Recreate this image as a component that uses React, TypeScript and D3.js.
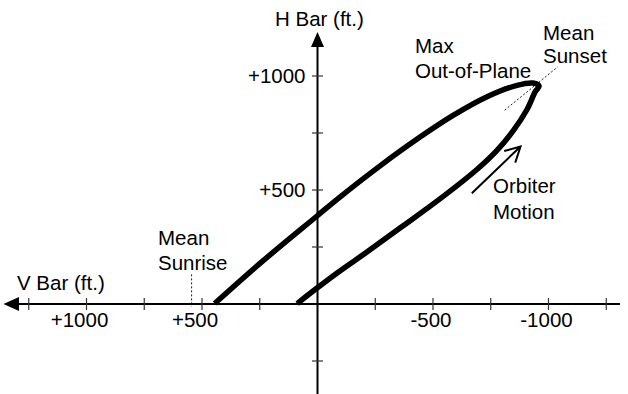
import React, { useRef, useEffect } from 'react';
import * as d3 from 'd3';

// Trajectory relative to target, in feet (V Bar positive to the left)
const vBarFt = [88, 2, -97, -214, -357, -530, -690, -777, -846, -907, -942, -959, -933, -864, -734, -587, -444, -271, -97, 2, 249, 445];
const hBarFt = [2, 70, 145, 228, 333, 461, 590, 674, 758, 853, 930, 956, 969, 959, 909, 827, 732, 606, 469, 386, 178, 2];

const xTicks = [1250, 1000, 750, 500, 250, -250, -500, -750, -1000, -1250];
const xTickLabels = ['+1000', '+500', '-500', '-1000'];
const xLabelValues = [1000, 500, -500, -1000];
const yTicks = [1000, 750, 500, 250, -250];
const yTickLabels = ['+1000', '+500'];
const yLabelValues = [1000, 500];

// annotation anchors, in feet
const sunsetLine = [[-810, 850], [-1040, 1040]];
const sunriseLine = [[545, 130], [545, -12]];
const motionArrow = [[-668, 486], [-879, 691]];

const W = 628;
const H = 394;
const FONT = '"Liberation Sans", Arial, Helvetica, sans-serif';
const FS = 20.5;

const App: React.FC = () => {
  const svgRef = useRef<SVGSVGElement>(null);

  useEffect(() => {
    if (!svgRef.current) return;
    const svg = d3.select(svgRef.current);
    svg.selectAll('*').remove();

    const x = d3.scaleLinear().domain([1000, -1000]).range([86.5, 548.5]);
    const y = d3.scaleLinear().domain([-250, 1000]).range([361, 76]);
    const x0 = x(0);
    const y0 = y(0);

    // horizontal axis (V Bar) with arrow to the left
    svg.append('line')
      .attr('x1', 14).attr('x2', 620)
      .attr('y1', y0).attr('y2', y0)
      .attr('stroke', '#000').attr('stroke-width', 2);
    svg.append('path')
      .attr('d', `M3.5,${y0} L19,${y0 - 7} L19,${y0 + 7} Z`)
      .attr('fill', '#000');

    // vertical axis (H Bar) with arrow up
    svg.append('line')
      .attr('x1', x0).attr('x2', x0)
      .attr('y1', 42).attr('y2', H + 5)
      .attr('stroke', '#000').attr('stroke-width', 2);
    svg.append('path')
      .attr('d', `M${x0},32 L${x0 - 6.5},47 L${x0 + 6.5},47 Z`)
      .attr('fill', '#000');

    // ticks
    svg.append('g').selectAll('line')
      .data(xTicks)
      .join('line')
      .attr('x1', d => x(d)).attr('x2', d => x(d))
      .attr('y1', y0 - 6).attr('y2', y0 + 6)
      .attr('stroke', '#333').attr('stroke-width', 1.2);
    svg.append('g').selectAll('line')
      .data(yTicks)
      .join('line')
      .attr('x1', x0 - 5.5).attr('x2', x0 + 5.5)
      .attr('y1', d => y(d)).attr('y2', d => y(d))
      .attr('stroke', '#333').attr('stroke-width', 1.2);

    // tick labels
    svg.append('g').selectAll('text')
      .data(xLabelValues)
      .join('text')
      .attr('x', d => x(d) + (d > 0 ? -7 : -2))
      .attr('y', y0 + 23)
      .attr('text-anchor', 'middle')
      .style('font-family', FONT).style('font-size', `${FS}px`)
      .text((d, i) => xTickLabels[i]);
    svg.append('g').selectAll('text')
      .data(yLabelValues)
      .join('text')
      .attr('x', x0 - 12)
      .attr('y', d => y(d) + 7)
      .attr('text-anchor', 'end')
      .style('font-family', FONT).style('font-size', `${FS}px`)
      .text((d, i) => yTickLabels[i]);

    // dashed annotation lines
    const dashed = d3.line<number[]>().x(d => x(d[0])).y(d => y(d[1]));
    [sunsetLine, sunriseLine].forEach(pts => {
      svg.append('path')
        .attr('d', dashed(pts))
        .attr('fill', 'none')
        .attr('stroke', '#000')
        .attr('stroke-width', 0.9)
        .attr('stroke-dasharray', '2,2');
    });

    // trajectory
    const pts = vBarFt.map((v, i) => [v, hBarFt[i]] as [number, number]);
    const traj = d3.line<[number, number]>()
      .x(d => x(d[0]))
      .y(d => y(d[1]))
      .curve(d3.curveCatmullRom.alpha(0.5));
    svg.append('path')
      .datum(pts)
      .attr('d', traj)
      .attr('fill', 'none')
      .attr('stroke', '#000')
      .attr('stroke-width', 5.5)
      .attr('stroke-linejoin', 'round');

    // orbiter motion arrow
    const [a, b] = motionArrow;
    const ax = x(a[0]), ay = y(a[1]), bx = x(b[0]), by = y(b[1]);
    const ang = Math.atan2(ay - by, ax - bx);
    const hl = 17, spread = (28 * Math.PI) / 180;
    svg.append('path')
      .attr('d', `M${ax},${ay} L${bx},${by} M${bx + hl * Math.cos(ang - spread)},${by + hl * Math.sin(ang - spread)} L${bx},${by} L${bx + hl * Math.cos(ang + spread)},${by + hl * Math.sin(ang + spread)}`)
      .attr('fill', 'none')
      .attr('stroke', '#000')
      .attr('stroke-width', 2);

    // labels
    const labels: [string, number, number][] = [
      ['H Bar (ft.)', 275, 26],
      ['V Bar (ft.)', 17, 290],
      ['Max', 415, 53],
      ['Out-of-Plane', 415, 78],
      ['Mean', 543, 40],
      ['Sunset', 543, 63],
      ['Mean', 158, 245],
      ['Sunrise', 158, 270],
      ['Orbiter', 493, 193],
      ['Motion', 493, 219],
    ];
    svg.append('g').selectAll('text')
      .data(labels)
      .join('text')
      .attr('x', d => d[1])
      .attr('y', d => d[2])
      .style('font-family', FONT).style('font-size', `${FS}px`)
      .text(d => d[0]);
  }, []);

  return (
    <svg ref={svgRef} width={W} height={H}
      style={{ position: 'absolute', left: 0, top: 0, background: '#fff' }} />
  );
};

export default App;
